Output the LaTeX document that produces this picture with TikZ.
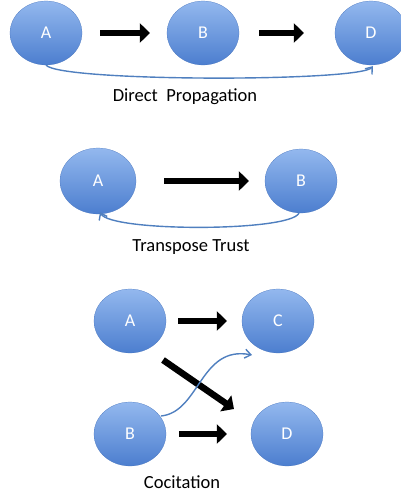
\documentclass[tikz,border=0pt]{standalone}
\usepackage{fontspec}
\setmainfont{Carlito}
\usepackage{xcolor}
\usepackage{tikz}
\usetikzlibrary{shapes.geometric, arrows.meta}
\definecolor{balltop}{HTML}{93B8EE}
\definecolor{ballbot}{HTML}{4C7ECF}
\definecolor{linkblue}{HTML}{4F7FBF}
\tikzstyle{ball} = [ellipse, minimum width=72pt, minimum height=64pt, inner sep=0pt, top color=balltop, bottom color=ballbot, draw=ballbot!90!black, very thin, text=white, font=\fontsize{18}{18}\selectfont]
\tikzstyle{arrow} = [line width=6.5pt, -{Triangle[length=10pt, width=19pt]}, black]
\tikzstyle{link} = [linkblue, line width=1.4pt, -{Straight Barb[length=6pt, width=9pt]}]
\tikzstyle{caption} = [font=\fontsize{18.5}{18.5}\selectfont]

\begin{document}
\begin{tikzpicture}[x=1pt, y=-1pt]
        \useasboundingbox (0,0) rectangle (401,498);
        % direct propagation
        \node (a1) [ball] at (46,33) {A};
        \node (b1) [ball, right of=a1, node distance=157pt] {B};
        \node (d1) [ball, right of=b1, node distance=168pt] {D};
        \draw [arrow, shorten <=18pt, shorten >=17pt] (a1) -- (b1);
        \draw [arrow, shorten <=20pt, shorten >=31pt] (b1) -- (d1);
        \draw [link] (a1.south) .. controls (60,82) and (360,82) .. ([xshift=2pt,yshift=-1pt]d1.south);
        \node (lbl1) [caption] at (185,97) {Direct\ \ Propagation};
        % transpose trust
        \node (a2) [ball, minimum width=76pt, minimum height=66pt] at (98,181) {A};
        \node (b2) [ball, right of=a2, node distance=203pt] {B};
        \draw [arrow, shorten <=28pt, shorten >=16pt] (a2) -- (b2);
        \draw [link] ([xshift=-2pt]b2.south) .. controls (290,232) and (110,232) .. ([xshift=2pt,yshift=2pt]a2.south);
        \node (lbl2) [caption] at (191,247) {Transpose Trust};
        % cocitation
        \node (a3) [ball] at (130,321) {A};
        \node (c3) [ball, right of=a3, node distance=148pt] {C};
        \node (b3) [ball, below of=a3, node distance=113pt] {B};
        \node (d3) [ball, right of=b3, node distance=157pt] {D};
        \draw [arrow, shorten <=12pt, shorten >=15pt] (a3) -- (c3);
        \draw [arrow, shorten <=13pt, shorten >=24pt] (b3) -- (d3);
        \draw [arrow] ([xshift=33pt,yshift=-39pt]a3.center) -- ([xshift=-53pt,yshift=25pt]d3.center);
        \draw [link] ([xshift=31pt,yshift=18pt]b3.center) .. controls (200,412) and (200,345) .. ([xshift=-26pt,yshift=-34pt]c3.center);
        \node (lbl3) [caption] at (182,482) {Cocitation};
    \end{tikzpicture}
\end{document}
